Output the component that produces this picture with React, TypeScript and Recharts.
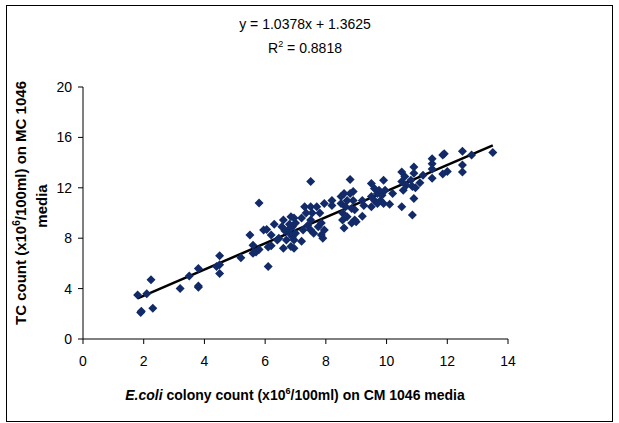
import React from "react";
import {
  ScatterChart,
  Scatter,
  XAxis,
  YAxis,
  ReferenceLine,
} from "recharts";

// E.coli colony count on CM 1046 (x) vs TC count on MC 1046 (y), x10^6/100ml
const ecoli = [
  1.8, 1.9, 1.92, 2.1, 2.24, 2.3, 3.2, 3.5, 3.8, 3.8, 3.8, 4.4, 4.5, 4.5, 4.5,
  5.2, 5.5, 5.6, 5.6, 5.7, 5.8, 5.8, 5.95, 6.05, 6.1, 6.1, 6.2, 6.2, 6.3, 6.4,
  6.45, 6.55, 6.6, 6.6, 6.7, 6.75, 6.8, 6.85, 6.85, 6.9, 6.9, 6.95, 6.95, 6.95,
  7.0, 7.0, 6.8, 6.65, 7.2, 7.2, 7.25, 7.3, 7.35, 7.4, 7.5, 7.5, 7.5, 7.5, 7.55,
  7.6, 7.7, 7.75, 7.8, 7.85, 7.85, 7.9, 7.95, 7.95, 8.2, 8.2, 8.5, 8.5, 8.55,
  8.55, 8.6, 8.6, 8.65, 8.7, 8.7, 8.8, 8.8, 8.85, 8.85, 8.9, 8.9, 8.95, 8.95,
  9.0, 9.2, 9.2, 9.25, 9.5, 9.5, 9.5, 9.6, 9.6, 9.7, 9.7, 9.75, 9.8, 9.85, 9.9,
  9.9, 9.95, 10.1, 10.2, 10.5, 10.5, 10.5, 10.55, 10.6, 10.65, 10.85, 10.9,
  10.9, 10.9, 10.85, 10.8, 10.95, 11.1, 11.2, 11.5, 11.5, 11.5, 11.5, 11.85,
  11.9, 11.85, 12.0, 12.5, 12.5, 12.5, 12.8, 13.5,
];
const tc = [
  3.5, 2.1, 2.2, 3.6, 4.7, 2.45, 4.0, 5.0, 5.6, 4.1, 4.2, 5.75, 5.2, 6.6, 5.9,
  6.45, 8.25, 7.45, 6.8, 6.9, 7.1, 10.8, 8.65, 8.7, 5.75, 7.3, 8.25, 7.4, 9.1,
  7.85, 8.0, 8.9, 9.45, 7.2, 7.85, 8.65, 8.4, 9.7, 7.35, 8.9, 8.1, 9.6, 7.2,
  7.85, 8.4, 9.2, 9.1, 8.6, 7.75, 9.6, 8.65, 10.5, 10.0, 9.0, 12.5, 10.5, 8.65,
  9.45, 10.0, 8.4, 10.5, 8.9, 10.0, 8.25, 9.2, 8.0, 10.75, 8.65, 11.0, 10.6,
  10.75, 11.3, 10.0, 9.45, 8.8, 11.55, 10.5, 11.0, 9.7, 12.65, 11.55, 10.35,
  9.2, 11.0, 11.7, 9.45, 10.25, 9.3, 11.0, 9.75, 10.6, 12.35, 11.3, 10.5,
  11.95, 11.0, 11.55, 10.75, 11.8, 11.0, 11.4, 12.6, 10.75, 11.8, 10.7, 11.55,
  13.25, 12.5, 10.5, 11.8, 12.9, 12.2, 9.85, 13.65, 13.15, 11.15, 12.1, 12.6,
  12.0, 12.4, 13.0, 14.3, 13.9, 12.75, 13.5, 14.6, 14.7, 13.1, 13.3, 14.9,
  13.8, 13.25, 14.6, 14.8,
];

const xTicks = [0, 2, 4, 6, 8, 10, 12, 14];
const yTicks = [0, 4, 8, 12, 16, 20];

// linear trendline shown on the chart
const slope = 1.0378;
const intercept = 1.3625;
const trendX = [1.8, 13.5];

const points = ecoli.map((x, i) => ({ x, y: tc[i] }));
const trend = trendX.map((x) => ({ x, y: slope * x + intercept }));

const font = "'Liberation Sans', Arial, sans-serif";
const markerColor = "#122b68";

const Diamond = (props: any) => {
  const { cx, cy } = props;
  const r = 4.5;
  return (
    <path
      d={`M${cx},${cy - r}L${cx + r},${cy}L${cx},${cy + r}L${cx - r},${cy}Z`}
      fill={markerColor}
    />
  );
};

export default function App() {
  return (
    <div
      style={{
        position: "absolute",
        left: 0,
        top: 0,
        width: 619,
        height: 423,
        background: "#fff",
        fontFamily: font,
      }}
    >
      <div
        style={{
          position: "absolute",
          left: 6,
          top: 5,
          width: 605,
          height: 415,
          border: "1px solid #000",
        }}
      />
      <ScatterChart
        width={619}
        height={423}
        margin={{ top: 87, right: 111, bottom: 54, left: 0 }}
      >
        <XAxis
          type="number"
          dataKey="x"
          domain={[0, 14]}
          ticks={xTicks}
          height={30}
          tickSize={5}
          tickMargin={12}
          stroke="#000"
          tick={{ fill: "#000", fontSize: 14, fontFamily: font }}
        />
        <YAxis
          type="number"
          dataKey="y"
          domain={[0, 20]}
          ticks={yTicks}
          width={83}
          tickSize={5}
          tickMargin={6}
          stroke="#000"
          tick={{ fill: "#000", fontSize: 14, fontFamily: font }}
        />
        <Scatter
          data={points}
          shape={Diamond}
          isAnimationActive={false}
        />
        <ReferenceLine
          segment={trend}
          stroke="#000"
          strokeWidth={2.5}
        />
      </ScatterChart>
      <svg
        width={619}
        height={423}
        style={{ position: "absolute", left: 0, top: 0, pointerEvents: "none" }}
      >
        <text x={305} y={29} textAnchor="middle" fontSize={14} fill="#000">
          y = 1.0378x + 1.3625
        </text>
        <text x={305} y={53} textAnchor="middle" fontSize={14} fill="#000">
          R
          <tspan dy={-6} fontSize={9}>2</tspan>
          <tspan dy={6}> = 0.8818</tspan>
        </text>
        <text
          x={295}
          y={400}
          textAnchor="middle"
          fontSize={14}
          fontWeight="bold"
          fill="#000"
        >
          <tspan fontStyle="italic">E.coli</tspan>
          <tspan>  colony count (x10</tspan>
          <tspan dy={-6} fontSize={9}>6</tspan>
          <tspan dy={6}>/100ml) on CM 1046 media</tspan>
        </text>
        <g transform="translate(26,203) rotate(-90)">
          <text x={0} y={0} textAnchor="middle" fontSize={15} fontWeight="bold" fill="#000">
            TC count (x10
            <tspan dy={-6} fontSize={10}>6</tspan>
            <tspan dy={6}>/100ml) on MC 1046</tspan>
          </text>
        </g>
        <g transform="translate(47,206) rotate(-90)">
          <text x={0} y={0} textAnchor="middle" fontSize={15} fontWeight="bold" fill="#000">
            media
          </text>
        </g>
      </svg>
    </div>
  );
}
